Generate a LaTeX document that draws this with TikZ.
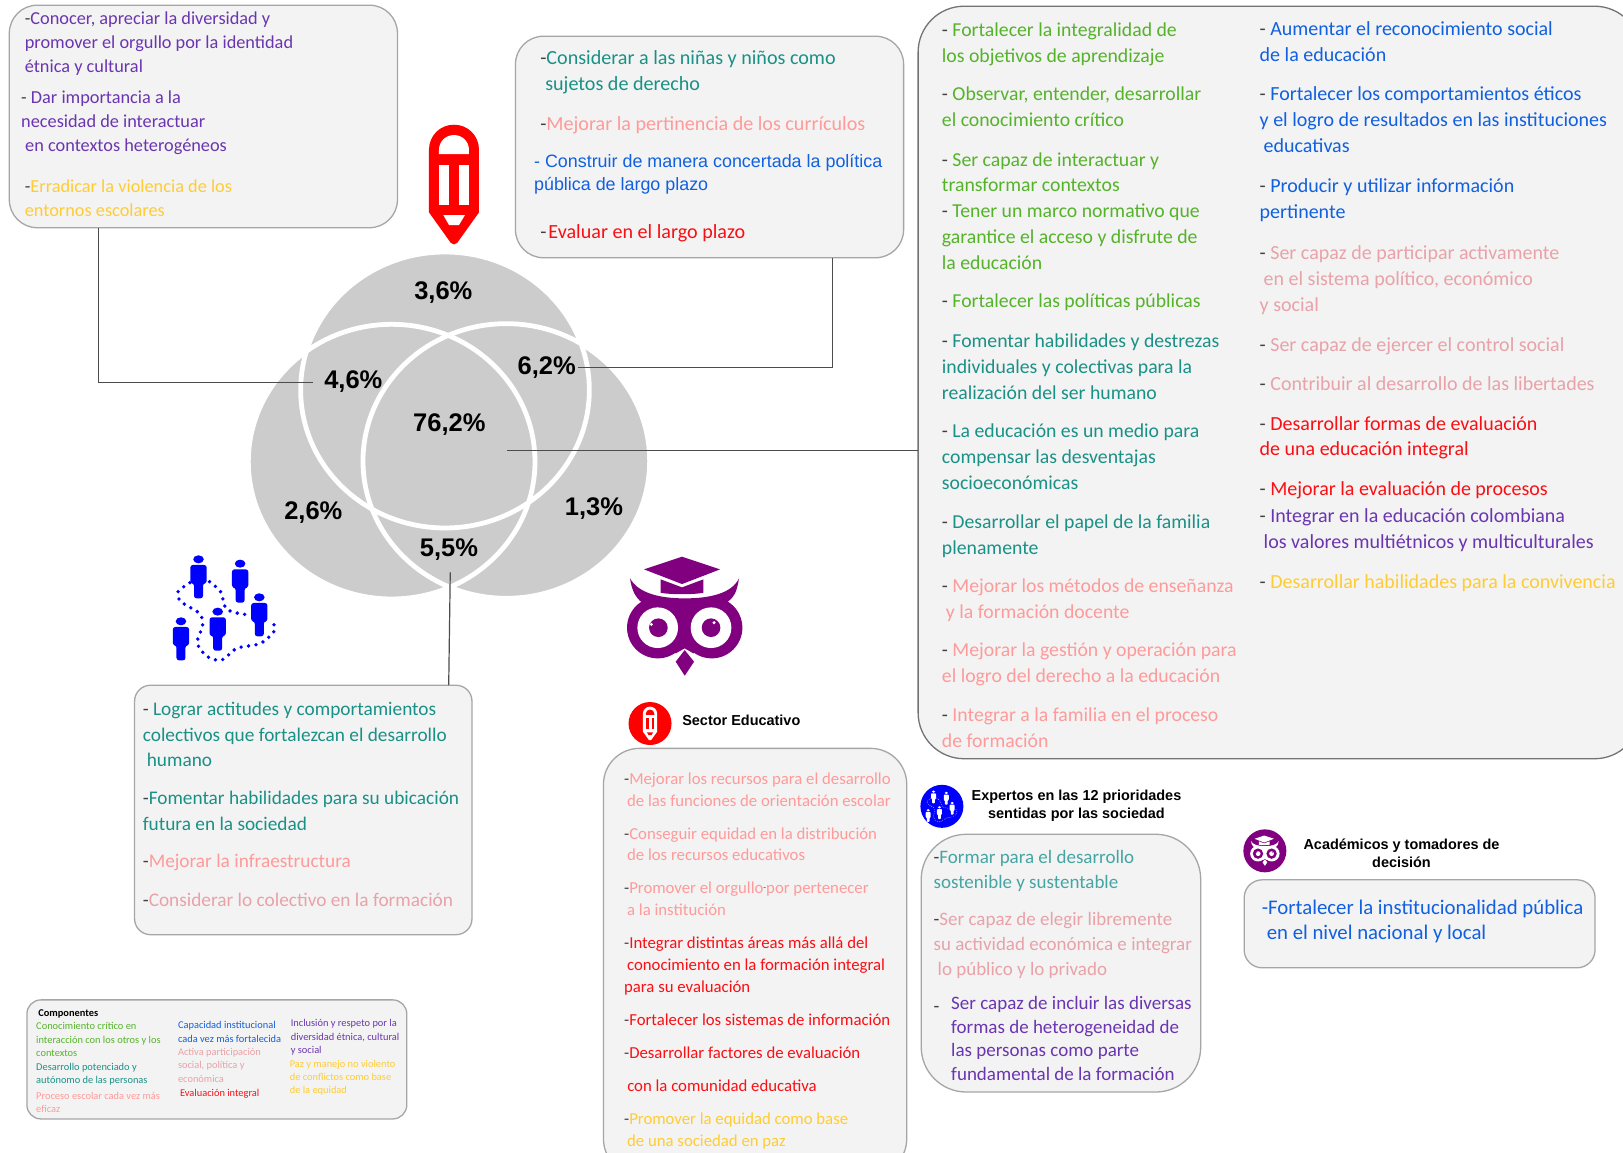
\documentclass[tikz,border=0pt]{standalone}
\usepackage{fontspec}
\usetikzlibrary{fit}
\setmainfont{Carlito}
\newfontfamily\arialf{Liberation Sans}
\definecolor{cgreen}{HTML}{55B32A}
\definecolor{cteal}{HTML}{1A9186}
\definecolor{cteall}{HTML}{45A5A3}
\definecolor{csalm}{HTML}{FF9A9A}
\definecolor{cdusty}{HTML}{E8A2A8}
\definecolor{cred}{HTML}{FA0F14}
\definecolor{cblue}{HTML}{1060E0}
\definecolor{cpurp}{HTML}{6A35B0}
\definecolor{cyell}{HTML}{FFCC33}
\definecolor{cdash}{HTML}{404040}
\definecolor{boxfill}{HTML}{F3F3F3}
\definecolor{boxline}{HTML}{A6A6A6}
\definecolor{venn}{HTML}{CCCCCC}
\definecolor{owlc}{HTML}{800080}
\newcommand{\D}{\textcolor{cdash}{-}}
\tikzset{
  txtbase/.style={anchor=north west,inner sep=0pt,outer sep=0pt,align=left},
  fbig/.style={txtbase,font=\fontsize{19.75}{25.9}\selectfont,yshift=11.45pt},
  frt/.style={txtbase,font=\fontsize{20}{25.9}\selectfont,yshift=11.45pt},
  fb/.style={txtbase,font=\fontsize{20.1}{25.9}\selectfont,yshift=11.45pt},
  fa/.style={txtbase,font=\fontsize{18.3}{23.8}\selectfont,yshift=10.4pt},
  farial/.style={txtbase,font=\arialf\fontsize{17.9}{22.8}\selectfont,yshift=9.9pt},
  fd/.style={txtbase,font=\fontsize{19.3}{25.6}\selectfont,yshift=11.3pt},
  fe/.style={txtbase,font=\fontsize{16.75}{21.8}\selectfont,yshift=9.4pt},
  ff/.style={txtbase,font=\fontsize{19}{24.8}\selectfont,yshift=10.9pt},
  ffb/.style={txtbase,font=\fontsize{19}{23.8}\selectfont,yshift=10.4pt},
  fg/.style={txtbase,font=\fontsize{20.8}{25}\selectfont,yshift=11pt},
  fleg/.style={txtbase,font=\fontsize{10.4}{13.2}\selectfont,yshift=5.1pt},
  pct/.style={inner sep=0pt,yshift=-2pt,font=\arialf\bfseries\fontsize{25.5}{26}\selectfont},
  hdr/.style={inner sep=0pt,align=center,font=\arialf\bfseries\fontsize{14.45}{17.6}\selectfont},
  rbox/.style={draw=boxline,fill=boxfill,line width=1.3pt,inner sep=0pt},
  conn/.style={draw=black!70,line width=1.2pt},
}
\newcommand{\tb}[5][fbig]{\node[#1,text=#4] (#2) at (#3) {\strut #5};}
\newcommand{\bx}[6]{\node[rbox,rounded corners=#6pt,fit={(#2,#3)(#4,#5)}] (#1) {};}
% icons in local units
\newcommand{\pencilicon}[2]{%
  \fill[#1] (-75,85) -- (-75,-103) .. controls (-75,-145) and (-42,-178) .. (0,-178)
    .. controls (42,-178) and (75,-145) .. (75,-103) -- (75,85) -- (10,176)
    .. controls (5,183) and (-5,183) .. (-10,176) -- cycle;
  \fill[#2] (-45,-90) -- (-45,-102) .. controls (-45,-128) and (-25,-147) .. (0,-147)
    .. controls (25,-147) and (45,-128) .. (45,-102) -- (45,-90) -- cycle;
  \fill[#2] (-45,-58) rectangle (-15,62);
  \fill[#2] (16,-58) rectangle (46,62);
  \fill[#2] (-32,93) -- (33,93) -- (15,123) -- (-15,123) -- cycle;
}
\newcommand{\person}[4]{%
  \fill[#1] (#2,#3) circle[x radius=13,y radius=12];
  \fill[#1,rounded corners=#4] ({#2-20},{#3+17}) -- ({#2+20},{#3+17}) -- ({#2+20},{#3+72}) -- ({#2+11},{#3+72}) -- ({#2+11},{#3+117}) -- ({#2-11},{#3+117}) -- ({#2-11},{#3+72}) -- ({#2-20},{#3+72}) -- cycle;
}
\newcommand{\peopleicon}[4]{%
  \person{#1}{-67}{-147}{#4}\person{#1}{35}{-134}{#4}\person{#1}{82}{-33}{#4}\person{#1}{-20}{10}{#4}\person{#1}{-110}{39}{#4}
  \draw[#1,line width=#2,line cap=round,dash pattern=on 0pt off #3] plot[smooth] coordinates {(-88,-77) (-117,-50) (-110,-20) (-65,15) (-57,50) (-70,105) (-45,145) (-10,155) (27,120) (85,105) (120,65) (110,30)};
  \draw[#1,line width=#2,line cap=round,dash pattern=on 0pt off #3] plot[smooth] coordinates {(-40,-80) (-13,-50) (0,0) (30,15) (60,20)};
}
\newcommand{\owlicon}[2]{%
  \fill[#1] (-8,-180) -- (106,-142) -- (-8,-98) -- (-122,-142) -- cycle;
  \fill[#1] (-72,-112) -- (-8,-88) -- (56,-112) -- (56,-72) .. controls (30,-66) and (-46,-66) .. (-72,-72) -- cycle;
  \fill[#1] (-164,-115) .. controls (-139,-70) and (-74,-55) .. (0,-55) .. controls (76,-55) and (141,-70) .. (163,-115)
     .. controls (156,-75) and (150,-60) .. (129,-45) -- (150,33) -- (26,110) -- (0,95) -- (-27,110) -- (-150,33) -- (-129,-43)
     .. controls (-149,-60) and (-159,-80) .. (-164,-115) -- cycle;
  \fill[#1] (-81,33) circle[radius=92];
  \fill[#1] (81,33) circle[radius=92];
  \fill[#2] (-81,33) circle[radius=61];
  \fill[#2] (79,33) circle[radius=61];
  \fill[#1] (-79,33) circle[radius=28];
  \fill[#1] (79,33) circle[radius=28];
  \fill[#2] (-100,23) circle[radius=5];
  \fill[#2] (88,18) circle[radius=5];
  \fill[#1] (0,100) -- (28,135) -- (0,177) -- (-27,135) -- cycle;
}
\begin{document}
\begin{tikzpicture}[x=1.03508pt,y=-1.03508pt]
\useasboundingbox (0,0) rectangle (1568,1113);
\fill[white] (0,0) rectangle (1568,1113);
\clip (0,0) rectangle (1568,1113);

% Venn diagram (full-size zoom units)
\begin{scope}[shift={(222.2,96.6)},x=0.33333pt,y=-0.33333pt]
  \fill[venn] (645,870) ellipse[x radius=433,y radius=414];
  \fill[venn] (485,1085) ellipse[x radius=430,y radius=412];
  \fill[venn] (829,1083) ellipse[x radius=430,y radius=412];
  \draw[white,line width=4.8pt] (645,870) ellipse[x radius=433,y radius=414];
  \draw[white,line width=4.8pt] (485,1085) ellipse[x radius=430,y radius=412];
  \draw[white,line width=4.8pt] (829,1083) ellipse[x radius=430,y radius=412];
  \node[pct] (p36) at (640,573) {3,6\%};
  \node[pct] (p46) at (370,838) {4,6\%};
  \node[pct] (p62) at (950,797) {6,2\%};
  \node[pct] (p762) at (658,968) {76,2\%};
  \node[pct] (p26) at (250,1232) {2,6\%};
  \node[pct] (p13) at (1092,1220) {1,3\%};
  \node[pct] (p55) at (657,1343) {5,5\%};
\end{scope}

% boxes
\bx{boxA}{9}{5}{384}{220}{28}
\bx{boxB}{498}{35}{873}{249}{28}
\node[rbox,draw=black!55,rounded corners=46pt,fit={(887,6)(1585,733)}] (boxC) {};
\bx{boxD}{130}{662}{456}{903}{16}
\bx{boxE}{583}{723}{876}{1135}{36}
\bx{boxF}{890}{806}{1160}{1055}{45}
\bx{boxG}{1202}{850}{1541}{935}{18}
\bx{boxL}{26}{966}{393}{1081}{14}

% connectors
\coordinate (cA) at (95,220);
\coordinate (cA2) at (302,369.5);
\coordinate (cB) at (804,249);
\coordinate (cB2) at (558,355);
\coordinate (cC) at (490,435);
\coordinate (cC2) at (887,435);
\coordinate (cD) at (435,553);
\coordinate (cD2) at (433.5,662);
\draw[conn] (cA) |- (cA2);
\draw[conn] (cB) |- (cB2);
\draw[conn] (cC) -- (cC2);
\draw[conn] (cD) -- (cD2);

% large icons
\begin{scope}[shift={(438.6,177.8)},x=0.33333pt,y=-0.33333pt]
  \pencilicon{red}{white}
\end{scope}
\begin{scope}[shift={(218.2,587.7)},x=0.408pt,y=-0.33333pt]
  \peopleicon{blue}{3.8pt}{7.5pt}{2.5pt}
\end{scope}
\begin{scope}[shift={(661.5,595.8)},x=0.33333pt,y=-0.33333pt]
  \owlicon{owlc}{white}
\end{scope}

% small round icons
\node[circle,fill=red,minimum size=43pt,inner sep=0pt] (icoR) at (628,699) {};
\begin{scope}[shift={(628,699)},x=0.095pt,y=-0.095pt]
  \pencilicon{white}{red}
\end{scope}
\node[circle,fill=blue,minimum size=43pt,inner sep=0pt] (icoB) at (910,779) {};
\begin{scope}[shift={(910,779)},x=0.125pt,y=-0.1pt]
  \peopleicon{white}{0.7pt}{2pt}{0.8pt}
\end{scope}
\node[circle,fill=owlc,minimum size=43pt,inner sep=0pt] (icoP) at (1222,822) {};
\begin{scope}[shift={(1222,822)},x=0.085pt,y=-0.085pt]
  \owlicon{white}{owlc}
\end{scope}
\node[hdr,anchor=west] (hE) at (659,696) {Sector Educativo};
\node[hdr] (hF) at (1040,778.5) {Expertos en las 12 prioridades\\sentidas por las sociedad};
\node[hdr] (hG) at (1354,824.5) {Académicos y tomadores de\\decisión};

% box A
\tb[fa]{a1}{24,18}{cpurp}{\D Conocer, apreciar la diversidad y\\promover el orgullo por la identidad\\étnica y cultural}
\tb[fa]{a2}{20.5,94}{cpurp}{\D{} Dar importancia a la\\necesidad de interactuar\\\hspace*{4pt}en contextos heterogéneos}
\tb[fa]{a3}{24,180}{cyell}{\D Erradicar la violencia de los\\entornos escolares}

% box B
\tb[fb]{b1}{522,56}{cteal}{\D Considerar a las niñas y niños como\\\hspace*{5pt}sujetos de derecho}
\tb[fb]{b2}{522,120}{csalm}{\D Mejorar la pertinencia de los currículos}
\tb[farial]{b3}{516,156}{cblue}{- Construir de manera concertada la política\\pública de largo plazo}
\tb[fb]{b4}{522,224}{cred}{\D\hspace{2pt}Evaluar en el largo plazo}

% box C left
\tb{c1}{910,29}{cgreen}{\D{} Fortalecer la integralidad de\\los objetivos de aprendizaje}
\tb{c2}{910,91}{cgreen}{\D{} Observar, entender, desarrollar\\el conocimiento crítico}
\tb{c3}{910,154}{cgreen}{\D{} Ser capaz de interactuar y\\transformar contextos}
\tb{c4}{910,204}{cgreen}{\D{} Tener un marco normativo que\\garantice el acceso y disfrute de\\la educación}
\tb{c5}{910,291}{cgreen}{\D{} Fortalecer las políticas públicas}
\tb{c6}{910,329}{cteal}{\D{} Fomentar habilidades y destrezas\\individuales y colectivas para la\\realización del ser humano}
\tb{c7}{910,416}{cteal}{\D{} La educación es un medio para\\compensar las desventajas\\socioeconómicas}
\tb{c8}{910,504}{cteal}{\D{} Desarrollar el papel de la familia\\plenamente}
\tb{c9}{910,566}{csalm}{\D{} Mejorar los métodos de enseñanza\\\hspace*{4pt}y la formación docente}
\tb{c10}{910,628}{csalm}{\D{} Mejorar la gestión y operación para\\el logro del derecho a la educación}
\tb{c11}{910,691}{csalm}{\D{} Integrar a la familia en el proceso\\de formación}

% box C right
\tb[frt]{r1}{1217,28}{cblue}{\D{} Aumentar el reconocimiento social\\de la educación}
\tb[frt]{r2}{1217,91}{cblue}{\D{} Fortalecer los comportamientos éticos\\y el logro de resultados en las instituciones\\\hspace*{4pt}educativas}
\tb[frt]{r3}{1217,180}{cblue}{\D{} Producir y utilizar información\\pertinente}
\tb[frt]{r4}{1217,244}{cdusty}{\D{} Ser capaz de participar activamente\\\hspace*{4pt}en el sistema político, económico\\y social}
\tb[frt]{r5}{1217,333}{cdusty}{\D{} Ser capaz de ejercer el control social}
\tb[frt]{r6}{1217,371}{cdusty}{\D{} Contribuir al desarrollo de las libertades}
\tb[frt]{r7}{1217,409}{cred}{\D{} Desarrollar formas de evaluación\\de una educación integral}
\tb[frt]{r8}{1217,472}{cred}{\D{} Mejorar la evaluación de procesos}
\tb[frt]{r9}{1217,498}{cpurp}{\D{} Integrar en la educación colombiana\\\hspace*{4pt}los valores multiétnicos y multiculturales}
\tb[frt]{r10}{1217,562}{cyell}{\D{} Desarrollar habilidades para la convivencia}

% box D
\tb[fd]{d1}{138,685}{cteal}{\D{} Lograr actitudes y comportamientos\\colectivos que fortalezcan el desarrollo\\\hspace*{4pt}humano}
\tb[fd]{d2}{138,771}{cteal}{\D Fomentar habilidades para su ubicación\\futura en la sociedad}
\tb[fd]{d3}{138,832}{csalm}{\D Mejorar la infraestructura}
\tb[fd]{d4}{138,869}{cdusty}{\D Considerar lo colectivo en la formación}

% box E
\tb[fe]{e1}{603,752}{csalm}{\D Mejorar los recursos para el desarrollo\\\hspace*{3pt}de las funciones de orientación escolar}
\tb[fe]{e2}{603,805}{csalm}{\D Conseguir equidad en la distribución\\\hspace*{3pt}de los recursos educativos}
\tb[fe]{e3}{603,858}{csalm}{\D Promover el orgullo\raisebox{3pt}{\textcolor{cdash}{\fontsize{9}{9}\selectfont -}}por pertenecer\\\hspace*{3pt}a la institución}
\tb[fe]{e4}{603,911}{cred}{\D Integrar distintas áreas más allá del\\\hspace*{3pt}conocimiento en la formación integral\\para su evaluación}
\tb[fe]{e5}{603,985}{cred}{\D Fortalecer los sistemas de información}
\tb[fe]{e6}{603,1017}{cred}{\D Desarrollar factores de evaluación}
\tb[fe]{e7}{606,1049}{cred}{con la comunidad educativa}
\tb[fe]{e8}{603,1081}{cyell}{\D Promover la equidad como base\\\hspace*{3pt}de una sociedad en paz}

% box F
\tb[ff]{f1}{902,828}{cteall}{\D Formar para el desarrollo\\sostenible y sustentable}
\tb[ff]{f2}{902,888}{cdusty}{\D Ser capaz de elegir libremente\\su actividad económica e integrar\\\hspace*{4pt}lo público y lo privado}
\tb[ff]{f3}{902,972}{cdash}{-}
\tb[ffb]{f4}{919,969}{cpurp}{Ser capaz de incluir las diversas\\formas de heterogeneidad de\\las personas como parte\\fundamental de la formación}

% box G
\tb[fg]{g1}{1219,877}{cblue}{-Fortalecer la institucionalidad pública\\\hspace*{5pt}en el nivel nacional y local}

% legend
\tb[fleg]{l0}{37,978}{black}{\textbf{Componentes}}
\tb[fleg]{l1}{35,991}{cgreen}{Conocimiento crítico en\\interacción con los otros y los\\contextos}
\tb[fleg]{l2}{35,1030}{cteal}{Desarrollo potenciado y\\autónomo de las personas}
\tb[fleg]{l3}{35,1058}{csalm}{Proceso escolar cada vez más\\eficaz}
\tb[fleg]{l4}{172,990}{cblue}{Capacidad institucional\\cada vez más fortalecida}
\tb[fleg]{l5}{172,1016}{cdusty}{Activa participación\\social, política y\\económica}
\tb[fleg]{l6}{174,1055}{cred}{Evaluación integral}
\tb[fleg]{l7}{281,988}{cpurp}{Inclusión y respeto por la\\diversidad étnica, cultural\\y social}
\tb[fleg]{l8}{280,1027}{cyell}{Paz y manejo no violento\\de conflictos como base\\de la equidad}
\end{tikzpicture}
\end{document}
